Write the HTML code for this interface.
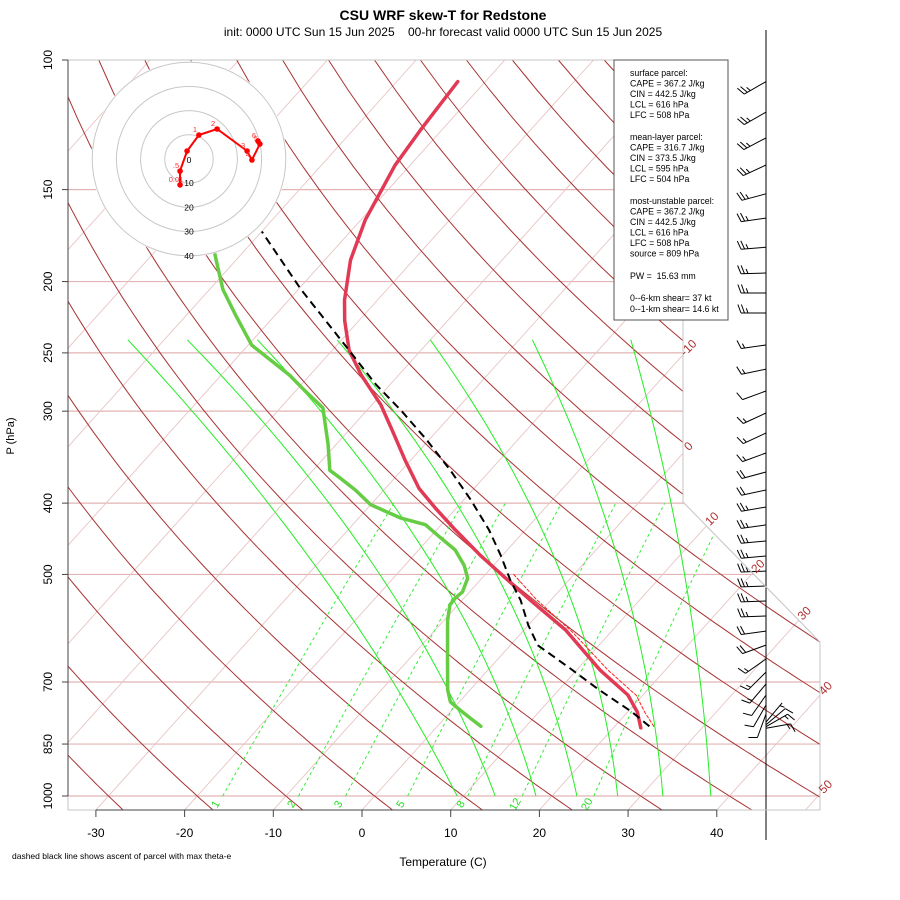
<!DOCTYPE html>
<html><head><meta charset="utf-8"><title>CSU WRF skew-T for Redstone</title>
<style>
html,body{margin:0;padding:0;background:#fff;}
svg{display:block;font-family:"Liberation Sans",Arial,sans-serif;}
</style></head>
<body>
<svg id="chart" width="900" height="900" viewBox="0 0 900 900" xmlns="http://www.w3.org/2000/svg">
<defs><clipPath id="plotclip"><polygon points="68,60 683,60 683,502 820,642 820,810 68,810"/></clipPath></defs>
<g id="bg" clip-path="url(#plotclip)"></g>
<g id="data"></g>
<g id="hodo"></g>
<g id="barbs"></g>
<g id="axes"></g>
<text x="443" y="20" text-anchor="middle" font-size="14" font-weight="bold">CSU WRF skew-T for Redstone</text>
<text x="443" y="36" text-anchor="middle" font-size="12" xml:space="preserve">init: 0000 UTC Sun 15 Jun 2025    00-hr forecast valid 0000 UTC Sun 15 Jun 2025</text>
<text x="443" y="866" text-anchor="middle" font-size="12">Temperature (C)</text>
<text x="14" y="436" text-anchor="middle" font-size="11" transform="rotate(-90 14 436)">P (hPa)</text>
<text x="12" y="859" font-size="8.5">dashed black line shows ascent of parcel with max theta-e</text>
<g>
<rect x="614" y="60" width="114" height="260" fill="#fff" stroke="#555" stroke-width="1"/>
<g font-size="8.8" fill="#000">
<text x="630" y="76">surface parcel:</text>
<text x="630" y="86.5">CAPE = 367.2 J/kg</text>
<text x="630" y="97">CIN = 442.5 J/kg</text>
<text x="630" y="107.5">LCL = 616 hPa</text>
<text x="630" y="118">LFC = 508 hPa</text>
<text x="630" y="140">mean-layer parcel:</text>
<text x="630" y="150.5">CAPE = 316.7 J/kg</text>
<text x="630" y="161">CIN = 373.5 J/kg</text>
<text x="630" y="171.5">LCL = 595 hPa</text>
<text x="630" y="182">LFC = 504 hPa</text>
<text x="630" y="204">most-unstable parcel:</text>
<text x="630" y="214.5">CAPE = 367.2 J/kg</text>
<text x="630" y="225">CIN = 442.5 J/kg</text>
<text x="630" y="235.5">LCL = 616 hPa</text>
<text x="630" y="246">LFC = 508 hPa</text>
<text x="630" y="256.5">source = 809 hPa</text>
<text x="630" y="279" xml:space="preserve">PW =  15.63 mm</text>
<text x="630" y="301">0--6-km shear= 37 kt</text>
<text x="630" y="312">0--1-km shear= 14.6 kt</text>
</g></g>
</svg>
<script>
// ---- sounding data ----
const tempP = [808,769,729,674,595,542,506,471,435,406,382,350,318,294,268,248,226,212,187,165,139,124.5,107];
const tempT = [23.1,21.1,18.3,12.6,4.7,-2.3,-7.3,-12.5,-17.9,-22.4,-26.2,-30.6,-35.2,-39.0,-44.2,-48.1,-51.6,-53.7,-57.1,-59.5,-61.7,-62.4,-63.1];
const dewP = [804,783,764,745,718,653,577,550,538,528,506,486,463,445,428,419,402,384,370,361,333,297,281,268,252,244,222,205,184,155,130,107];
const dewT = [4.9,2.8,0.9,-1.0,-2.5,-5.6,-9.6,-10.9,-11.0,-10.8,-11.6,-13.3,-15.9,-18.9,-21.8,-25.3,-30.0,-33.2,-36.1,-38.1,-40.9,-45.2,-49.1,-52.3,-57.1,-59.6,-64.5,-68.5,-72.9,-79.6,-83,-87];
const parcelP = [804,769,718,670,624,586,542,509,471,435,396,361,328,299,276,240,205,171];
const parcelT = [23.9,20.5,14.6,9.0,3.1,0.0,-3.4,-6.6,-10.2,-14.1,-19.2,-24.5,-30.3,-36.2,-41.6,-50.1,-59.7,-70.0];
const virtP = [804,770,730,675,600,540,500];
const virtT = [24.4,22.0,19.3,13.6,5.8,-1.8,-6.8];
// ---- hodograph data (kt) ----
const hodoU = [-3.7,-3.7,-0.8,4.1,11.6,24.0,26.0,29.3,28.5];
const hodoV = [-10.7,-5.0,3.3,9.9,12.4,3.3,-0.4,6.2,7.4];
const hodoLabels = ["0.01",".5","","1","2","3","4","5","6"];
const hodoRings = [10,20,30,40];
// ---- wind barb data ----
const windP = [107,117.7,127.6,138.9,152,164,179.6,194.7,207.3,220.7,243.9,263,281.7,301.7,321.2,342,362.9,383.9,404.9,428.2,450.4,472,494.8,518.4,543.3,569.4,596.9,623.6,651.5,678.6,704.4,729.2,752.3,773.7,793.5,800,805,809];
const windDir = [240,240,242,245,255,262,265,268,270,270,262,258,250,245,245,250,255,258,260,262,265,265,268,268,268,268,262,250,235,225,220,215,210,200,40,50,60,80];
const windSpd = [25,25,25,25,25,25,25,25,25,25,15,15,10,15,15,15,20,20,25,25,25,25,25,25,25,25,20,20,15,15,15,10,10,10,5,10,15,15];
// ---- reference line sets ----
const isobars = [150,200,250,300,400,500,700,850,1000];
const pTicks = [100,150,200,250,300,400,500,700,850,1000];
const tTicks = [-30,-20,-10,0,10,20,30,40];
const mixRatios = [1,2,3,5,8,12,20];
const moistTop = [-74.1,-67.4,-59.5,-50.5,-40.0,-28.5,-17.4];   // T at 240 hPa
const moistMid = [-18.5,-12.3,-6.1,-0.1,6.5,12.7,19.1];        // T at 595 hPa
const moistBot = [9.3,13.6,18.2,22.8,27.4,32.5,37.9];          // T at 1000 hPa
const isoLabels = [-10,0,10,20,30,40,50];

const NS = "http://www.w3.org/2000/svg";
function yP(p){ return 60 + 736*Math.log10(p/100); }
function xT(T,p){ return 362 + 8.87*T + 0.9*(810 - yP(p)); }
function mk(parent, tag, attrs){
  const el = document.createElementNS(NS, tag);
  for (const k in attrs) el.setAttribute(k, attrs[k]);
  parent.appendChild(el);
  return el;
}
function pathFrom(pts){ return pts.map((q,i)=>(i?"L":"M")+q[0].toFixed(1)+","+q[1].toFixed(1)).join(""); }
const bg = document.getElementById("bg");
const dataG = document.getElementById("data");
const hodoG = document.getElementById("hodo");
const barbG = document.getElementById("barbs");
const axG = document.getElementById("axes");

isobars.forEach(p=>{
  const el = mk(bg,"line",{x1:68,x2:820,y1:yP(p),y2:yP(p),stroke:"#e2b4b4","stroke-width":1.2});
  
  
});
for (let T=-130; T<=60; T+=10){
  const el = mk(bg,"line",{x1:xT(T,1050),y1:yP(1050),x2:xT(T,100),y2:yP(100),stroke:"#e8c4c4","stroke-width":0.9});
  
  
}
for (let th=-30; th<=200; th+=10){
  const pts=[];
  for (let p=1050; p>=100; p-=10){
    const T=(th+273.15)*Math.pow(p/1000,0.2857)-273.15;
    pts.push([xT(T,p),yP(p)]);
  }
  const el = mk(bg,"path",{d:pathFrom(pts),fill:"none",stroke:"#a83232","stroke-width":1});
  
  
}
function lag(x,xs,ys){
  let s=0;
  for(let i=0;i<3;i++){ let t=ys[i]; for(let j=0;j<3;j++) if(j!==i) t*=(x-xs[j])/(xs[i]-xs[j]); s+=t; }
  return s;
}
const lp=[Math.log(240),Math.log(595),Math.log(1000)];
for (let i=0;i<moistTop.length;i++){
  const pts=[];
  for (let p=240; p<=1000; p+=10){
    const T=lag(Math.log(p),lp,[moistTop[i],moistMid[i],moistBot[i]]);
    pts.push([xT(T,p),yP(p)]);
  }
  const el = mk(bg,"path",{d:pathFrom(pts),fill:"none",stroke:"#22ee22","stroke-width":1});
  
  
}
function tMix(w,p){ const e=w*p/(622+w); const L=Math.log(e/6.112); return 243.5*L/(17.67-L); }
mixRatios.forEach(w=>{
  const pts=[];
  for (let p=1000; p>=400; p-=10) pts.push([xT(tMix(w,p),p),yP(p)]);
  const el = mk(bg,"path",{d:pathFrom(pts),fill:"none",stroke:"#33ee33","stroke-width":1,"stroke-dasharray":"3,3"});
  
  
  const lx=xT(tMix(w,1000),1000)-4, ly=806;
  const t = mk(bg,"text",{x:lx,y:ly,fill:"#22dd22","font-size":11,"text-anchor":"middle",transform:`rotate(-60 ${lx} ${ly})`});
  t.textContent=String(w);
  
  
});
{
  const el = mk(axG,"polygon",{points:"68,60 683,60 683,502 820,642 820,810 68,810",fill:"none",stroke:"#c4c4c4","stroke-width":1});
  
  
}
function borderX(y){ return y<=502?683:(y<=642?683+(y-502)*137/140:820); }
isoLabels.forEach(T=>{
  let yy=810;
  for (let y=810;y>=60;y-=0.5){ const p=100*Math.pow(10,(y-60)/736); if (xT(T,p)>=borderX(y)){ yy=y; break; } }
  const p=100*Math.pow(10,(yy-60)/736);
  const lx=xT(T,p)+8, ly=yy-4;
  const t = mk(axG,"text",{x:lx,y:ly,fill:"#b03030","font-size":12,"text-anchor":"middle",transform:`rotate(-45 ${lx} ${ly})`});
  t.textContent=String(T);
  
  
});

function line(P,T,attrs){
  return mk(dataG,"path",Object.assign({d:pathFrom(P.map((p,i)=>[xT(T[i],p),yP(p)])),fill:"none","stroke-linejoin":"round","stroke-linecap":"round"},attrs));
}
{
  const el = line(dewP,dewT,{stroke:"#66cc44","stroke-width":3.5});
  
  
}
{
  const el = line(tempP,tempT,{stroke:"#e03a55","stroke-width":3.5});
  
  
}
{
  const el = line(virtP,virtT,{stroke:"#ff2020","stroke-width":1,"stroke-dasharray":"3,2"});
  
  
}
{
  const el = line(parcelP,parcelT,{stroke:"#000","stroke-width":2,"stroke-dasharray":"8,5","stroke-linecap":"butt"});
  
  
}

const hcx=189, hcy=159, hk=2.42;
{
  const el = mk(hodoG,"circle",{cx:hcx,cy:hcy,r:40*hk+1,fill:"#fff",stroke:"none"});
  
  
}
hodoRings.forEach(r=>{
  const c = mk(hodoG,"circle",{cx:hcx,cy:hcy,r:r*hk,fill:"none",stroke:"#c8c8c8","stroke-width":1});
  
  
  const t = mk(hodoG,"text",{x:hcx,y:hcy+r*hk+3,"font-size":8.5,"text-anchor":"middle",fill:"#000"});
  t.textContent=String(r);
  
  
});
{
  const t = mk(hodoG,"text",{x:hcx,y:hcy+4,"font-size":8.5,"text-anchor":"middle",fill:"#000"});
  t.textContent="0";
  
  
}
{
  const pts=hodoU.map((u,i)=>[hcx+u*hk,hcy-hodoV[i]*hk]);
  const el = mk(hodoG,"path",{d:pathFrom(pts),fill:"none",stroke:"#ff0000","stroke-width":2});
  
  
  pts.forEach((q,i)=>{
    const c = mk(hodoG,"circle",{cx:q[0],cy:q[1],r:2.8,fill:"#ff0000"});
    
    
    if (hodoLabels[i]){
      const t = mk(hodoG,"text",{x:q[0]-4,y:q[1]-3,"font-size":7.5,fill:"#ff3030","text-anchor":"middle"});
      t.textContent=hodoLabels[i];
      
      
    }
  });
}

{
  const el = mk(barbG,"line",{x1:766,x2:766,y1:30,y2:840,stroke:"#000","stroke-width":1});
  
  
}
windP.forEach((p,i)=>{
  const a=windDir[i]*Math.PI/180, L=25;
  const sx=Math.sin(a), sy=-Math.cos(a);
  const bx=766, by=yP(p);
  const tx=bx+sx*L, ty=by+sy*L;
  let d=`M${bx},${by.toFixed(1)}L${tx.toFixed(1)},${ty.toFixed(1)}`;
  const px=-sy, py=sx;
  const kx=px*0.94+sx*0.34, ky=py*0.94+sy*0.34;
  let spd=windSpd[i], k=0;
  while (spd>=10){ const ox=tx-sx*k*3.5, oy=ty-sy*k*3.5; d+=`M${ox.toFixed(1)},${oy.toFixed(1)}l${(kx*9).toFixed(1)},${(ky*9).toFixed(1)}`; spd-=10; k++; }
  if (spd>=5){ if(k===0) k=1; const ox=tx-sx*k*3.5, oy=ty-sy*k*3.5; d+=`M${ox.toFixed(1)},${oy.toFixed(1)}l${(kx*5).toFixed(1)},${(ky*5).toFixed(1)}`; }
  const el = mk(barbG,"path",{d:d,fill:"none",stroke:"#000","stroke-width":1});
  
  
});

{
  const el = mk(axG,"line",{x1:68,x2:68,y1:60,y2:796,stroke:"#444","stroke-width":1});
  
  
}
pTicks.forEach(p=>{
  const y=yP(p);
  const tk = mk(axG,"line",{x1:62,x2:68,y1:y,y2:y,stroke:"#444","stroke-width":1});
  
  
  const t = mk(axG,"text",{x:52,y:y,"font-size":12,"text-anchor":"middle",transform:`rotate(-90 52 ${y})`});
  t.textContent=String(p);
  
  
});
{
  const el = mk(axG,"line",{x1:96,x2:717,y1:810,y2:810,stroke:"#444","stroke-width":1});
  
  
}
tTicks.forEach(T=>{
  const x=362+8.87*T;
  const tk = mk(axG,"line",{x1:x,x2:x,y1:810,y2:817,stroke:"#444","stroke-width":1});
  
  
  const t = mk(axG,"text",{x:x,y:837,"font-size":12,"text-anchor":"middle"});
  t.textContent=String(T);
  
  
});
</script>
</body></html>
